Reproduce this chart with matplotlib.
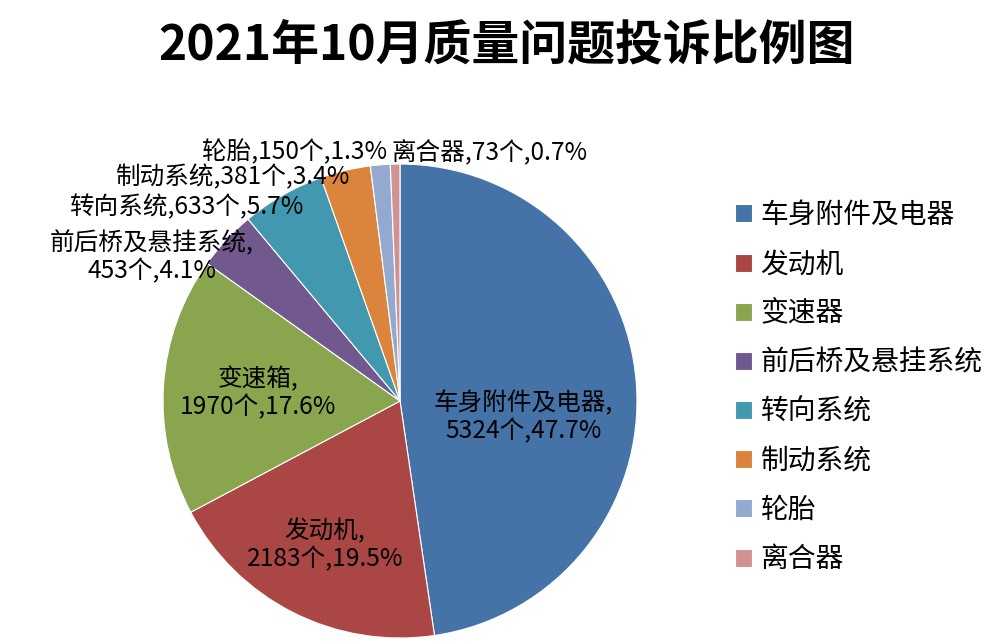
import matplotlib
matplotlib.use('Agg')
import matplotlib.pyplot as plt

plt.rcParams['font.family'] = ['Noto Sans CJK SC', 'DejaVu Sans']

# Données
categories = ['车身附件及电器', '发动机', '变速器', '前后桥及悬挂系统',
              '转向系统', '制动系统', '轮胎', '离合器']
label_names = ['车身附件及电器', '发动机', '变速箱', '前后桥及悬挂系统',
               '转向系统', '制动系统', '轮胎', '离合器']
counts = [5324, 2183, 1970, 453, 633, 381, 150, 73]
percents = ['47.7%', '19.5%', '17.6%', '4.1%', '5.7%', '3.4%', '1.3%', '0.7%']
colors = ['#4572A7', '#AA4643', '#89A54E', '#71588F',
          '#4198AF', '#DB843D', '#93A9CF', '#D19392']

# Position des étiquettes (coordonnées du camembert, rayon = 1)
label_pos = [(0.52, -0.07), (-0.316, -0.61), (-0.60, 0.034), (-1.046, 0.608),
             (-0.903, 0.819), (-0.705, 0.945), (-0.447, 1.05), (0.376, 1.05)]
two_lines = [True, True, True, True, False, False, False, False]

fig = plt.figure(figsize=(10, 6.44), dpi=100)
fig.patch.set_facecolor('white')
ax = fig.add_axes([0.163, 0.0093, 0.474, 0.736])

wedges, _ = ax.pie(counts, colors=colors, startangle=90, counterclock=False,
                   radius=1, wedgeprops=dict(edgecolor='white', linewidth=0.8))
ax.set_xlim(-1, 1)
ax.set_ylim(-1, 1)
ax.set_aspect('equal')
ax.axis('off')

for name, n, p, (x, y), two in zip(label_names, counts, percents, label_pos, two_lines):
    if two:
        txt = f'{name},\n{n}个,{p}'
    else:
        txt = f'{name},{n}个,{p}'
    ax.text(x, y, txt, ha='center', va='center', fontsize=17.7,
            linespacing=1.1, clip_on=False)

fig.legend(wedges, categories, loc='upper left', bbox_to_anchor=(0.71, 0.728),
           frameon=False, fontsize=20, handlelength=0.62, handleheight=0.62,
           handletextpad=0.3, labelspacing=0.69)

fig.text(0.507, 1 - 45 / 644, '2021年10月质量问题投诉比例图', ha='center', va='center',
         fontsize=34.5, fontweight='bold')

fig.savefig('out.png', dpi=100)
